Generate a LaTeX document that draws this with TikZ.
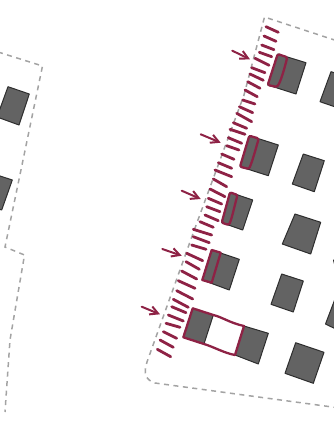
\documentclass[tikz,border=0pt]{standalone}
\usepackage{xcolor}
\usetikzlibrary{arrows.meta}
\definecolor{plotred}{HTML}{8E2245}
\definecolor{blockgray}{HTML}{636363}
\definecolor{blockedge}{HTML}{2E2E2E}
\definecolor{linegray}{HTML}{A3A3A3}
\tikzset{
  block/.style={draw=blockedge, line width=1pt, fill=blockgray, line join=round},
  boundary/.style={draw=linegray, line width=1.5pt, dash pattern=on 5pt off 4.5pt},
  hatch/.style={draw=plotred, line width=2.8pt, line cap=round},
  strip/.style={draw=plotred, line width=2.3pt, line join=round},
  pointer/.style={-{Straight Barb[length=2.8mm,width=3mm]}, draw=plotred, line width=2pt, line cap=round}
}
\begin{document}
\begin{tikzpicture}[x=1pt,y=-1pt]
  \useasboundingbox (0,0) rectangle (334,437);
  \clip (0,0) rectangle (334,437);

  % site outlines
  \draw[boundary] (-2,52) -- (42.5,66) -- (5,247) -- (24.5,255) -- (10,340) -- (5,412);
  \draw[boundary] (336,40.5) -- (264.5,17) -- (244,95) -- (195,228) -- (147,362)
    .. controls (143,374) and (146,380) .. (155,383) -- (336,407.5);

  % blocks
  \draw[block] (8,86.7) -- (29.3,94) -- (19,125) -- (-3,117) -- cycle;
  \draw[block] (-3,175) -- (12.3,180) -- (1.7,210) -- (-8,207) -- cycle;
  \draw[block] (277.7,54) -- (306,62.7) -- (296,94) -- (267.7,85) -- cycle;
  \draw[block] (249.3,135.7) -- (278.3,145) -- (268.3,175.7) -- (240,166.7) -- cycle;
  \draw[block] (230,192.3) -- (252.7,200) -- (242.7,230) -- (221.7,222.7) -- cycle;
  \draw[block] (211.7,250) -- (239.3,259.3) -- (229.3,290) -- (202.3,280) -- cycle;
  \draw[block] (331,71.7) -- (360,81) -- (350,112) -- (320,101.7) -- cycle;
  \draw[block] (303.3,154) -- (324.3,160.7) -- (314.3,191.7) -- (292.3,184) -- cycle;
  \draw[block] (295,214) -- (320.7,222.3) -- (310.7,254) -- (282.3,244) -- cycle;
  \draw[block] (281.7,274) -- (303.3,281) -- (293.3,312) -- (271,304.3) -- cycle;
  \draw[block] (295.7,342.7) -- (324,352.3) -- (313.3,383.3) -- (285,373.3) -- cycle;
  \draw[block] (335,299) -- (360,307) -- (350,336) -- (325.5,324) -- cycle;
  \draw[block] (333.5,260) -- (340,262) -- (336,270) -- cycle;
  \draw[block] (192.7,308.3) -- (213.3,315) -- (204,344) -- (183.3,337.3) -- cycle;
  \draw[block] (244,326) -- (268.3,333.3) -- (258.3,364) -- (235,355) -- cycle;

  % marked strips
  \draw[strip, rounded corners=1.5pt] (277.7,54) -- (287.3,57.3) .. controls (284,70) and (281,81) .. (277,87) -- (267.7,85) -- cycle;
  \draw[strip, rounded corners=1.5pt] (249.3,135.7) -- (258.7,138.5) .. controls (255,152) and (252,162) .. (249,169) -- (240,166.7) -- cycle;
  \draw[strip, rounded corners=1.5pt] (230,192.3) -- (237.5,195) .. controls (234,208) and (232,218) .. (229,225) -- (221.7,222.7) -- cycle;
  \draw[strip] (211.7,250) -- (220.7,252.7) -- (211.7,282.7) -- (202.3,280) -- cycle;
  \draw[strip] (192.7,308.3) -- (213.3,315) .. controls (222,317) and (230,323) .. (244,326) -- (235,355)
    .. controls (224,353) and (214,347) .. (204,344) -- (183.3,337.3) -- cycle;

  % frontage hatching
  \foreach \xa/\ya/\xb/\yb in {
    266/26.7/278.3/32.3, 264/36/276/41.3, 261.7/45/274/49.7, 259.3/52.3/271.7/56.7,
    255/58.3/269/65.3, 251.7/67.7/265/72.7, 250/74/263.3/80.3, 247.7/81.7/260/88.3,
    245/90/257.3/96.7, 242.7/100/255/104, 239.3/106.7/252.7/112.7, 236.7/113.3/251.7/121.7,
    233.3/122.7/246.7/128.3, 230/129.3/245/134.3, 228.3/137.7/241.7/143.3, 226.7/145.7/239/150,
    221.7/154/234/159.3, 218.3/162.7/231.7/168.3, 215/170/231.7/176.7, 213.3/179/226.7/186.7,
    210/189/225/196.7, 208.3/198.3/221.7/204, 206.7/206.7/220/211.7, 205/215/218.3/220.7,
    200/221.7/213.3/227.3, 193.3/229.3/211.7/235, 193.3/236.7/209.3/242.7, 191.7/245/206/249.3,
    186.7/253.3/202.7/260.7, 186/261.7/199.3/269.3, 181.7/271/196.7/279, 178.3/280.7/195/288.3,
    176.7/290.7/192.7/299, 173.3/299.3/188.3/307.3, 171.7/306.7/186/312.7, 168.3/315/183.3/321,
    166/323.3/180/327.3, 163.3/331.7/176.7/338.3, 160/340/173.3/347.3, 157.3/349.3/170.7/356.7}
    \draw[hatch] (\xa,\ya) -- (\xb,\yb);

  % arrows onto the frontage
  \draw[pointer] (232.3,50.7) -- (250,59.3);
  \draw[pointer] (200.7,134.3) -- (220.7,142.7);
  \draw[pointer] (181.7,190.7) -- (200.7,199);
  \draw[pointer] (162.3,249) -- (181.7,255.7);
  \draw[pointer] (141.7,306.7) -- (160,314.3);
\end{tikzpicture}
\end{document}
